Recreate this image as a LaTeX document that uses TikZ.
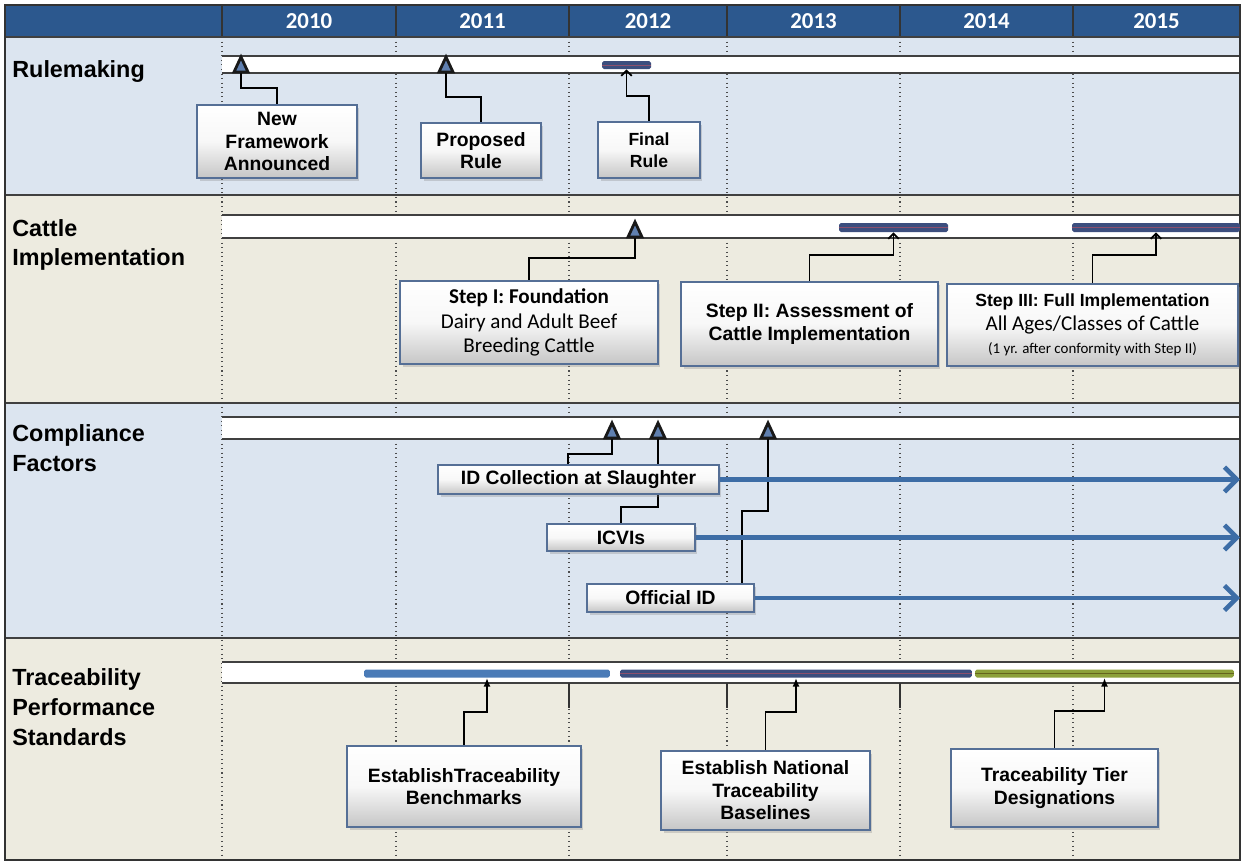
\documentclass[tikz,border=0pt]{standalone}
\usepackage{fontspec}
\setmainfont{Liberation Sans}
\newfontfamily\calfont{Carlito}
\usetikzlibrary{arrows.meta,shadows}

\definecolor{hdrblue}{RGB}{44,88,142}
\definecolor{rowblue}{RGB}{220,229,240}
\definecolor{rowbeige}{RGB}{237,235,224}
\definecolor{markblue}{RGB}{96,128,176}
\definecolor{bardark}{RGB}{60,78,126}
\definecolor{barplum}{RGB}{140,80,110}
\definecolor{barblue}{RGB}{74,123,183}
\definecolor{bargreen}{RGB}{140,160,58}
\definecolor{barolive}{RGB}{100,100,30}
\definecolor{boxedge}{RGB}{85,111,150}
\definecolor{arrowblue}{RGB}{61,109,166}

\pgfdeclarelayer{background}
\pgfdeclarelayer{links}
\pgfsetlayers{background,links,main}

\begin{document}
\begin{tikzpicture}[x=0.02cm, y=-0.02cm, >={Latex[length=5pt,width=4pt]},
    box/.style={draw=boxedge, line width=1.2pt, top color=white, bottom color=gray!45, middle color=gray!6,
      align=center, inner sep=1pt, font=\fontsize{11}{12.8}\selectfont\bfseries,
      drop shadow={opacity=0.3, shadow xshift=0.05cm, shadow yshift=-0.05cm}},
    lab/.style={anchor=west, align=left, inner sep=0pt, font=\fontsize{13.3}{17}\selectfont\bfseries},
    yr/.style={text=white, font=\calfont\fontsize{13}{15}\selectfont\bfseries},
    bar/.style={rounded corners=1pt, inner sep=0pt, minimum height=0.16cm},
    tmark/.style={fill=markblue, draw=black!90, line width=1.6pt},
    link/.style={line width=1pt},
    barb/.style={-{Straight Barb[length=3pt,width=6pt]}},
    longar/.style={line width=2.6pt, draw=arrowblue, -{Straight Barb[length=7pt,width=14pt]}},
    yearline/.style={black!70, line width=0.6pt, dotted},
    rowsep/.style={black!75, line width=1.4pt}]
\useasboundingbox (0,0) rectangle (1244,863);

\begin{pgfonlayer}{background}
\fill[rowblue] (5,37) rectangle (1240,195);
\fill[rowbeige] (5,195) rectangle (1240,403);
\fill[rowblue] (5,403) rectangle (1240,638);
\fill[rowbeige] (5,638) rectangle (1240,860);
\fill[hdrblue] (5,5) rectangle (1240,37);
\foreach \x in {222,396,569,727,900,1073} {
  \draw[yearline] (\x,37) -- (\x,860);
  \draw[black!80, line width=0.8pt] (\x,5) -- (\x,37);
}
\foreach \ya/\yb in {56/73,215/238,417/439,662/683} {
  \fill[white] (222,\ya) rectangle (1240,\yb);
  \draw[black!75, line width=0.9pt] (222,\ya) -- (1240,\ya) (222,\yb) -- (1240,\yb);
}
\foreach \x in {569,727,900}
  \draw[black!80, line width=1pt] (\x,683) -- (\x,708);
\foreach \y in {37,195,403,638}
  \draw[rowsep] (5,\y) -- (1240,\y);
\draw[black!80, line width=1pt] (5,5) rectangle (1240,860);
\end{pgfonlayer}

\foreach \x/\t in {309/2010,482.5/2011,648/2012,813.5/2013,986.5/2014,1156.5/2015}
  \node[yr] (y\t) at (\x,21) {\t};

\node[lab] (rule) at (12,72) {Rulemaking};
\node[lab] (cattle) at (12,245) {Cattle\\Implementation};
\node[lab] (comp) at (12,448) {Compliance\\Factors};
\node[lab] (trace) at (12,707) {Traceability\\Performance\\Standards};

\node[box, minimum width=3.2cm, minimum height=1.46cm] (frame) at (277,141.5) {New\\Framework\\Announced};
\node[box, minimum width=2.4cm, minimum height=1.1cm] (prop) at (481,150.5) {Proposed\\Rule};
\node[box, minimum width=2.04cm, minimum height=1.12cm, font=\fontsize{10}{12.5}\selectfont\bfseries] (final) at (649,150) {Final\\Rule};

\node[box, minimum width=5.16cm, minimum height=1.66cm, font=\calfont\fontsize{12}{14}\selectfont] (stepi) at (529,322.5)
  {\textbf{Step I: Foundation}\\Dairy and Adult Beef\\Breeding Cattle};
\node[box, minimum width=5.14cm, minimum height=1.68cm] (stepii) at (809.5,324) {Step II: Assessment of\\Cattle Implementation};
\node[box, minimum width=5.82cm, minimum height=1.64cm, font=\calfont\fontsize{12}{13.5}\selectfont] (stepiii) at (1092.5,325)
  {{\rmfamily\bfseries\fontsize{10}{13}\selectfont Step III: Full Implementation}\\All Ages/Classes of Cattle\\{\fontsize{8.5}{10}\selectfont (1 yr. after conformity with Step II)}};

\node[box, minimum width=5.62cm, minimum height=0.58cm, inner sep=0pt] (idcol) at (578.5,479.5) {ID Collection at Slaughter};
\node[box, minimum width=2.96cm, minimum height=0.54cm, inner sep=0pt] (icvi) at (621,537.5) {ICVIs};
\node[box, minimum width=3.34cm, minimum height=0.56cm, inner sep=0pt] (offid) at (670.5,598) {Official ID};

\node[box, minimum width=4.68cm, minimum height=1.62cm] (bench) at (464,786.5) {EstablishTraceability\\Benchmarks};
\node[box, minimum width=4.18cm, minimum height=1.58cm] (natl) at (765.5,790.5) {Establish National\\Traceability\\Baselines};
\node[box, minimum width=4.14cm, minimum height=1.56cm] (tier) at (1054.5,788) {Traceability Tier\\Designations};

\node[bar, fill=bardark, minimum width=0.98cm] (finbar) at (626.5,65) {};
\node[bar, fill=bardark, minimum width=2.18cm, minimum height=0.18cm] (iibar) at (893.5,227.5) {};
\node[bar, fill=bardark, minimum width=3.36cm, minimum height=0.18cm] (iiibar) at (1156,227.5) {};
\node[bar, fill=barblue, minimum width=4.92cm] (bmbar) at (487,673.5) {};
\node[bar, fill=bardark, minimum width=7.04cm] (blbar) at (796,673.5) {};
\node[bar, fill=bargreen, minimum width=5.18cm] (tdbar) at (1104.5,673.5) {};
\foreach \b in {finbar,iibar,iiibar,blbar}
  \draw[barplum, line width=0.5pt] (\b.west) -- (\b.east);
\draw[barolive, line width=0.6pt] (tdbar.west) -- (tdbar.east);

\coordinate (m1) at (241,73);
\coordinate (m2) at (446,73);
\coordinate (m3) at (635,238);
\coordinate (m4) at (612,439);
\coordinate (m5) at (658,439);
\coordinate (m6) at (768,439);
\foreach \m in {m1,m2,m3,m4,m5,m6}
  \draw[tmark] (\m) ++(-7,-1) -- ++(7,-15) -- ++(7,15) -- cycle;

\begin{pgfonlayer}{links}
\draw[link] (frame.north) -- ++(0,-16) -| (m1);
\draw[link] (prop.north) -- ++(0,-25) -| (m2);
\draw[link,barb] (final.north) -- ++(0,-25) -| (finbar.south);
\draw[link] (stepi.north) -- ++(0,-22) -| (m3);
\draw[link,barb] (stepii.north) -- ++(0,-26) -| (iibar.south);
\draw[link,barb] (stepiii.north) -- ++(0,-28) -| (iiibar.south);
\draw[link] ([xshift=-0.21cm]idcol.north) -- ++(0,-10) -| (m4);
\draw[link] (icvi.north) -- ++(0,-16) -| (m5);
\draw[link] ([xshift=-0.26cm]offid.north east) -- ++(0,-72) -| (m6);
\draw[link,->] (bench.north) -- ++(0,-33) -| (bmbar.south);
\draw[link,->] (natl.north) -- ++(0,-38) -| (blbar.south);
\draw[link,->] (tier.north) -- ++(0,-37) -| (tdbar.south);
\end{pgfonlayer}

\coordinate (tend) at (1240,0);
\draw[longar] (idcol.east) -- (idcol.east -| tend);
\draw[longar] (icvi.east) -- (icvi.east -| tend);
\draw[longar] (offid.east) -- (offid.east -| tend);
\end{tikzpicture}
\end{document}
